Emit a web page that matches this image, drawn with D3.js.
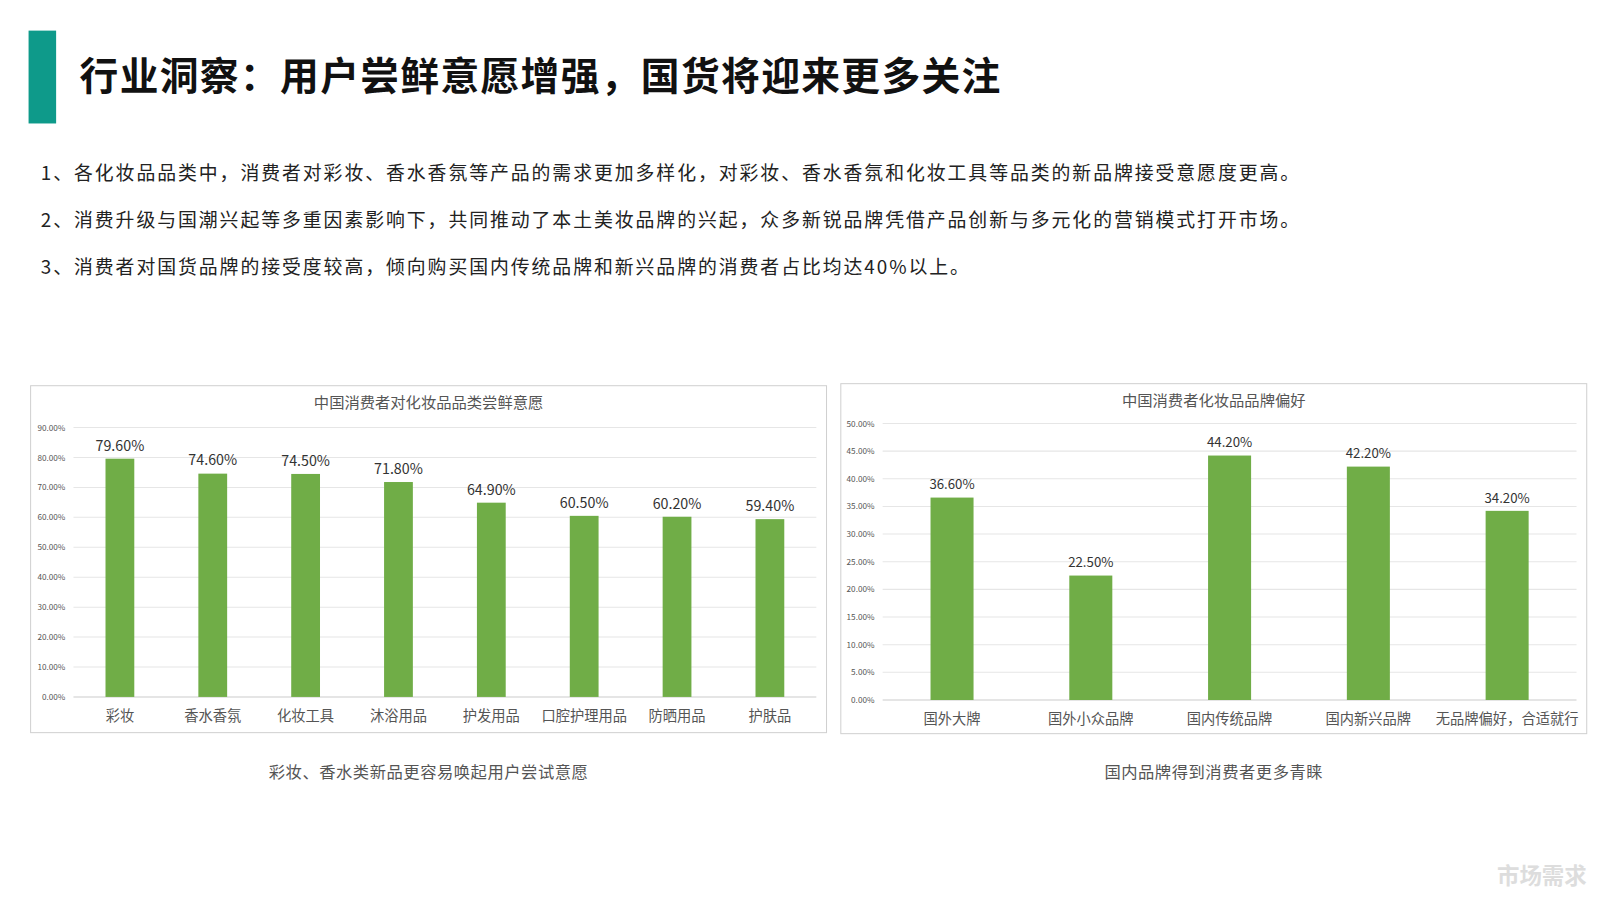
<!DOCTYPE html>
<html><head><meta charset="utf-8">
<script src="https://cdn.jsdelivr.net/npm/d3@7"></script>
<style>
body{margin:0;background:#fff;font-family:"Noto Sans CJK SC","Noto Sans",sans-serif;}
</style></head>
<body><svg id="c" width="1600" height="900"></svg>
<script>
// data
const catsA = ["彩妆","香水香氛","化妆工具","沐浴用品","护发用品","口腔护理用品","防晒用品","护肤品"];
const valsA = [79.6,74.6,74.5,71.8,64.9,60.5,60.2,59.4];
const ticksA = [0,10,20,30,40,50,60,70,80,90];
const catsB = ["国外大牌","国外小众品牌","国内传统品牌","国内新兴品牌","无品牌偏好，合适就行"];
const valsB = [36.6,22.5,44.2,42.2,34.2];
const ticksB = [0,5,10,15,20,25,30,35,40,45,50];
const points = [
  "1、各化妆品品类中，消费者对彩妆、香水香氛等产品的需求更加多样化，对彩妆、香水香氛和化妆工具等品类的新品牌接受意愿度更高。",
  "2、消费升级与国潮兴起等多重因素影响下，共同推动了本土美妆品牌的兴起，众多新锐品牌凭借产品创新与多元化的营销模式打开市场。",
  "3、消费者对国货品牌的接受度较高，倾向购买国内传统品牌和新兴品牌的消费者占比均达40%以上。"
];

// the layout was measured on a 1568-wide copy, so scale it up
const svg = d3.select("#c").append("g").attr("transform","scale(1.0204)");
svg.append("rect").attr("x",28).attr("y",30).attr("width",27).attr("height",91).attr("fill","#0e9a8a");
svg.append("text").attr("x",78).attr("y",88).attr("font-size",38).attr("font-weight",700).attr("fill","#111")
  .attr("letter-spacing",1.3).text("行业洞察：用户尝鲜意愿增强，国货将迎来更多关注");
points.forEach((p,i)=>{
  svg.append("text").attr("x",40).attr("y",176+i*46.5).attr("font-size",18.5).attr("fill","#222").attr("letter-spacing",1.9).text(p);
});
svg.append("text").attr("x",1555).attr("y",866).attr("text-anchor","end").attr("font-size",22).attr("font-weight",700).attr("fill","#ddd").text("市场需求");

function chart(o){
  const g = svg.append("g");
  g.append("rect").attr("x",o.box[0]).attr("y",o.box[1]).attr("width",o.box[2]).attr("height",o.box[3])
    .attr("fill","#fff").attr("stroke","#d0d0d0");
  g.append("text").attr("x",o.box[0]+o.box[2]/2).attr("y",o.box[1]+22).attr("text-anchor","middle")
    .attr("font-size",15).attr("fill","#555").text(o.title);
  const x = d3.scaleBand().domain(o.cats).range(o.xr).paddingInner(o.pad).paddingOuter(o.pad/2);
  const y = d3.scaleLinear().domain([0,o.max]).range(o.yr);
  g.selectAll(".gl").data(o.ticks).join("line").attr("x1",o.xr[0]).attr("x2",o.xr[1])
    .attr("y1",d=>y(d)).attr("y2",d=>y(d)).attr("stroke",d=>d===0?"#ccc":"#e6e6e6");
  g.selectAll(".tl").data(o.ticks).join("text").attr("x",o.xr[0]-8).attr("y",d=>y(d)+3)
    .attr("text-anchor","end").attr("font-size",8).attr("fill","#555").text(d=>d.toFixed(2)+"%");
  g.selectAll(".b").data(o.vals).join("rect").attr("x",(d,i)=>x(o.cats[i]))
    .attr("y",d=>y(d)).attr("width",x.bandwidth()).attr("height",d=>y(0)-y(d)).attr("fill","#70ad47");
  g.selectAll(".v").data(o.vals).join("text").attr("x",(d,i)=>x(o.cats[i])+x.bandwidth()/2)
    .attr("y",d=>y(d)-8).attr("text-anchor","middle").attr("font-size",o.vfs).attr("fill","#333")
    .text(d=>d.toFixed(2)+"%");
  g.selectAll(".c").data(o.cats).join("text").attr("x",d=>x(d)+x.bandwidth()/2).attr("y",y(0)+24)
    .attr("text-anchor","middle").attr("font-size",14).attr("fill","#555").text(d=>d);
  svg.append("text").attr("x",o.box[0]+o.box[2]/2).attr("y",762).attr("text-anchor","middle")
    .attr("font-size",16).attr("fill","#555").attr("letter-spacing",0.5).text(o.caption);
}
chart({box:[30,378,780,340],title:"中国消费者对化妆品品类尝鲜意愿",cats:catsA,vals:valsA,ticks:ticksA,max:90,
  xr:[72,800],yr:[683,419],pad:0.69,vfs:14,caption:"彩妆、香水类新品更容易唤起用户尝试意愿"});
chart({box:[824,376,731,343],title:"中国消费者化妆品品牌偏好",cats:catsB,vals:valsB,ticks:ticksB,max:50,
  xr:[865,1545],yr:[686,415],pad:0.69,vfs:13,caption:"国内品牌得到消费者更多青睐"});
</script></body></html>
